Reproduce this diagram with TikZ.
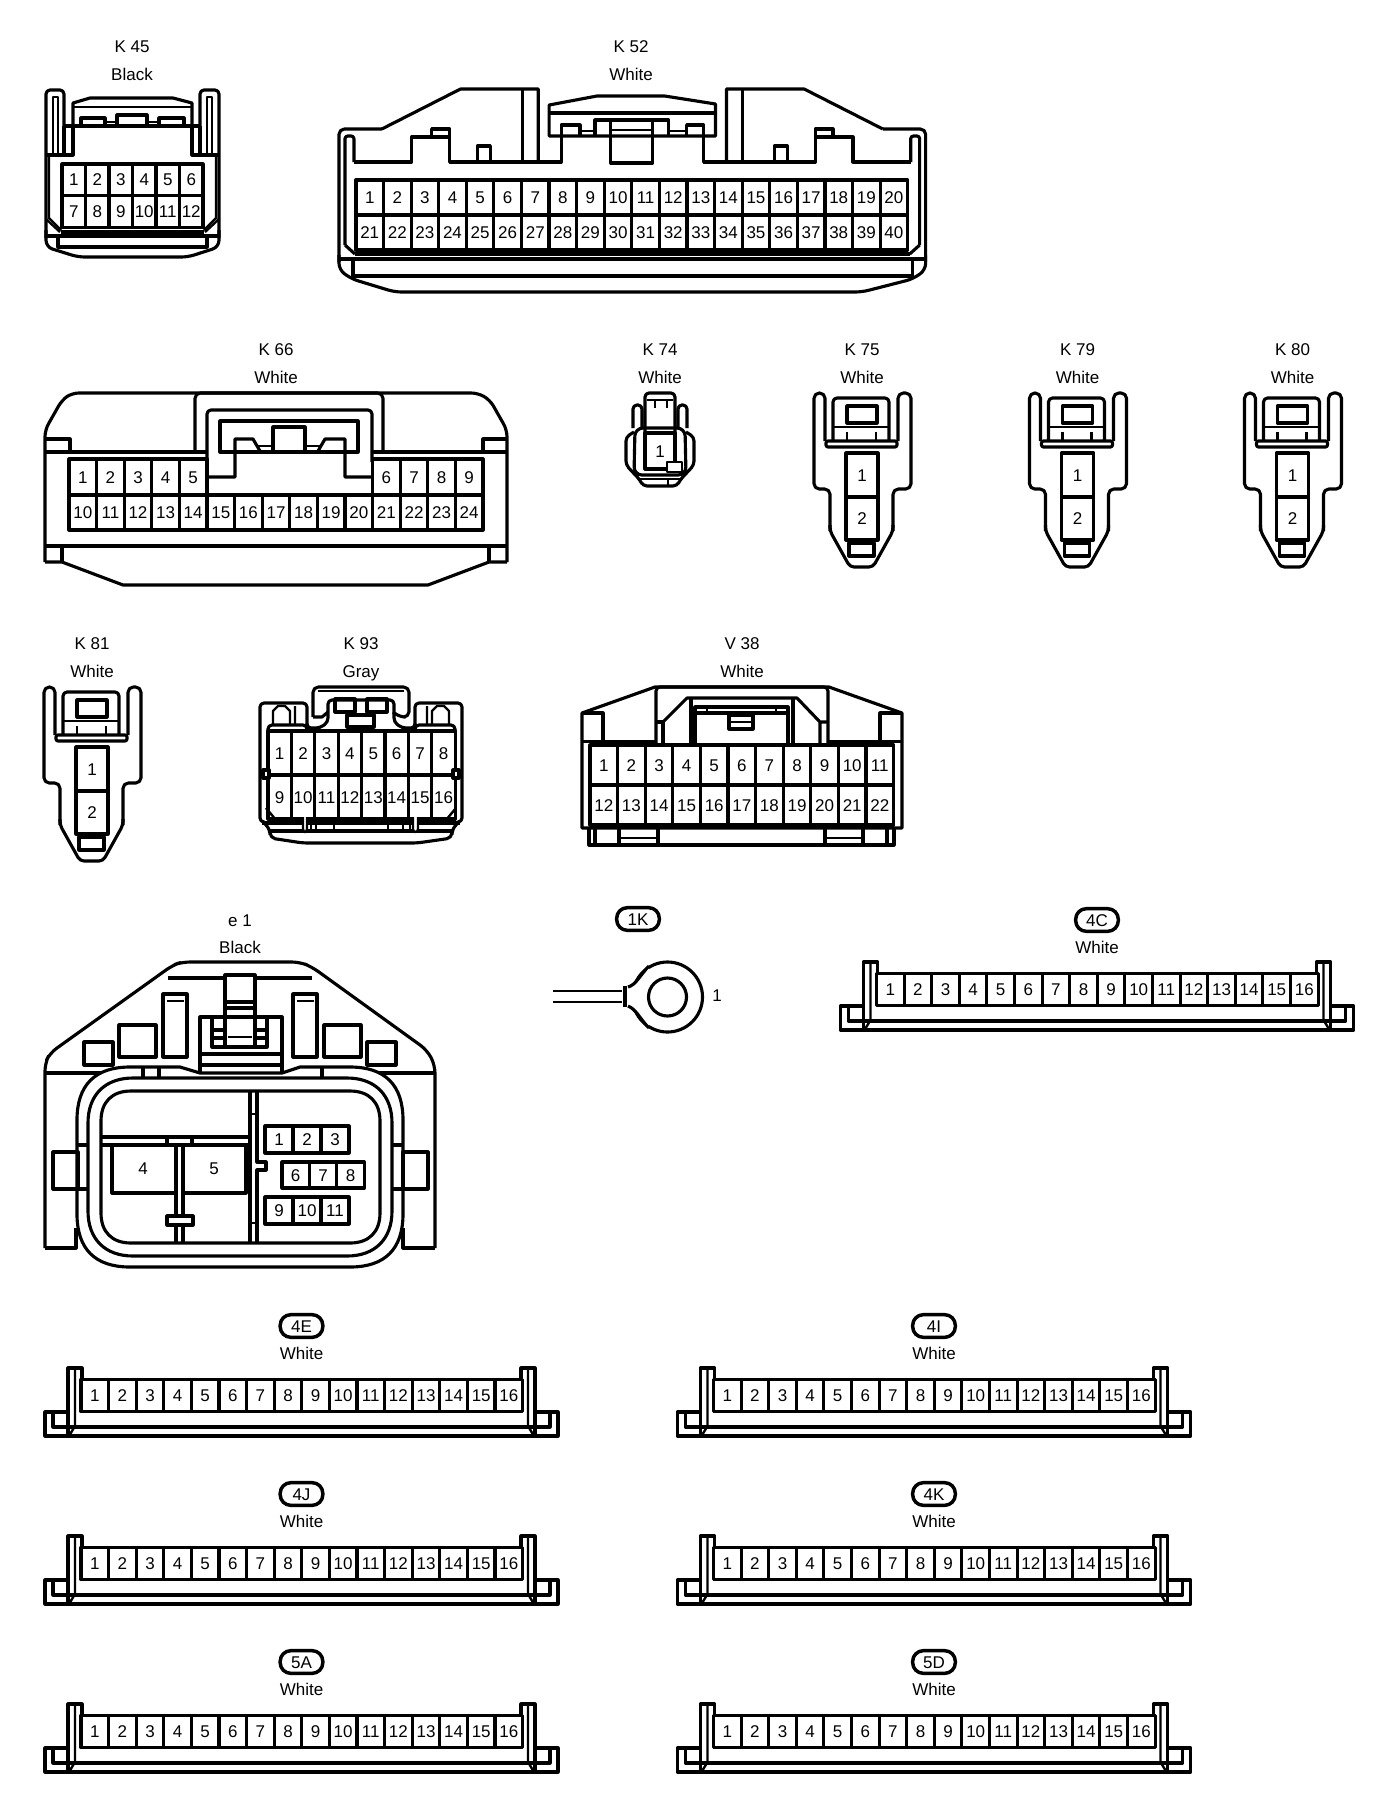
\documentclass[tikz,border=0pt]{standalone}
\usepackage{fontspec}
\setmainfont{Liberation Sans}
\tikzset{
  ln/.style={line width=2.35pt,line join=round,draw=black},
  tn/.style={line width=1.8pt,line join=round,draw=black},
  pinlabel/.style={font=\fontsize{12.75}{13}\selectfont,inner sep=0pt,text height=9.2pt,text depth=0pt},
  lab/.style={font=\fontsize{12.75}{13}\selectfont,inner sep=0pt,text height=9.2pt,text depth=0pt},
  pill/.style={draw=black,line width=2.6pt,rectangle,rounded corners=8pt,minimum width=32pt,minimum height=17pt,inner sep=0pt,font=\fontsize{12.75}{13}\selectfont,text height=9.2pt,text depth=0pt}
}
\newcommand{\pinrow}[7]{%
  \foreach \i in {1,...,#6}{%
    \pgfmathtruncatemacro{\pinno}{#7+\i-1}%
    \draw[ln] ({#2+(\i-1)*#4},#3) rectangle ++(#4,#5);
    \node[pinlabel] (#1-\pinno) at ({#2+(\i-.5)*#4},{#3+#5/2}) {\pinno};
  }}
\newcommand{\titlelabel}[5]{%
  \node[lab] (#1-name) at (#2,{#3-1}) {#4};
  \node[lab] (#1-colour) at (#2,{#3+27}) {#5};}
\newcommand{\busconn}[4]{%
  \begin{scope}[shift={(#2,#3)}]
    \node[pill] (#1-tag) at (301.5,1326) {#4};
    \node[lab] (#1-colour) at (301.5,1353) {White};
    \draw[ln] (68,1412) -- (45,1412) -- (45,1436) -- (558,1436) -- (558,1412) -- (535,1412);
    \draw[ln] (53,1412) -- (53,1427) -- (550,1427) -- (550,1412);
    \draw[ln] (68,1435) -- (68,1368) -- (82,1368) -- (82,1380);
    \draw[tn] (75,1369) -- (75,1426) -- (69,1436);
    \draw[ln] (535,1435) -- (535,1368) -- (521,1368) -- (521,1380);
    \draw[tn] (528,1369) -- (528,1426) -- (534,1436);
    \pinrow{#1}{81}{1379.5}{27.6}{32}{16}{1}
  \end{scope}}
\newcommand{\ampconn}[4]{%
  \begin{scope}[shift={(#2,#3)}]
    \titlelabel{#1}{862}{350}{#4}{White}
    \draw[ln,rounded corners=4pt] (830,531) -- (830,489) -- (814,489) -- (814,393) -- (825,393) -- (825,441);
    \draw[ln,rounded corners=4pt] (898,441) -- (898,393) -- (911,393) -- (911,489) -- (893,489) -- (893,531);
    \draw[ln,rounded corners=3pt] (830,525) -- (830,531) -- (850,567) -- (873,567) -- (893,531) -- (893,525);
    \draw[ln,rounded corners=3pt] (833,441) -- (833,398) -- (889,398) -- (889,441);
    \draw[ln,rounded corners=1.5pt] (826,441) rectangle (897,447);
    \draw[ln] (847,406) rectangle (877,423);
    \draw[tn] (833,427) -- (889,427);
    \draw[tn] (847,432) -- (847,441) (876,432) -- (876,441);
    \draw[ln] (849,543) rectangle (874,556);
    \draw[ln] (846,453) rectangle (878,497);
    \draw[ln] (846,497) rectangle (878,540);
    \node[pinlabel] (#1-1) at (862,475) {1};
    \node[pinlabel] (#1-2) at (862,518) {2};
  \end{scope}}
\begin{document}
\begin{tikzpicture}[x=0.75pt,y=-0.75pt]
\useasboundingbox (0,0) rectangle (1376,1800);
\fill[white] (0,0) rectangle (1376,1800);

%% K45
\titlelabel{k45}{132}{47}{K 45}{Black}
\draw[ln,rounded corners=3pt] (46,238) -- (46,90) -- (64,90) -- (64,126);
\draw[ln,rounded corners=3pt] (200,126) -- (200,90) -- (219,90) -- (219,238);
\draw[ln,rounded corners=5pt] (46,230) -- (46,247) -- (78,257) -- (188,257) -- (219,247) -- (219,230);
\draw[ln] (64,126) -- (200,126);
\draw[tn] (53,155) -- (53,97) -- (58,97) -- (58,155);
\draw[tn] (212,155) -- (212,97) -- (207,97) -- (207,155);
\draw[ln] (64,126) -- (64,155) (73,126) -- (73,155) -- (46,155);
\draw[ln] (200,126) -- (200,155) (192,126) -- (192,155) -- (219,155);
\draw[ln] (73,126) -- (73,103) -- (90,98) -- (173,98) -- (192,103) -- (192,126);
\draw[tn] (73,107) -- (192,107);
\draw[ln] (81,126) -- (81,118) -- (105,118) -- (105,126);
\draw[ln] (117,126) -- (117,115) -- (147,115) -- (147,126);
\draw[ln] (159,126) -- (159,118) -- (184,118) -- (184,126);
\draw[tn] (105,122) -- (117,122) (147,122) -- (159,122);
\draw[tn] (49,155) -- (49,218) -- (61,230) (216,155) -- (216,218) -- (204,230);
\pinrow{k45}{62}{164}{23.5}{31.5}{6}{1}
\pinrow{k45}{62}{195.5}{23.5}{32}{6}{7}
\draw[tn] (46,219) -- (60,232) (219,219) -- (205,232);
\draw[ln] (61,232) -- (204,232);
\draw[ln] (46,236) -- (219,236);
\draw[ln] (58,236) -- (58,247) -- (207,247) -- (207,236);

%% K52
\titlelabel{k52}{631}{47}{K 52}{White}
\begin{scope}[shift={(339,0)},xscale=0.996,shift={(-339,0)}]
\draw[ln,rounded corners=4pt] (339,262) -- (339,129) -- (382,129);
\draw[ln] (382,129) -- (461,89) -- (539,89) -- (539,162);
\draw[ln] (885,129) -- (806,89) -- (728,89) -- (728,162);
\draw[ln,rounded corners=4pt] (885,129) -- (928,129) -- (928,262);
\draw[ln] (523,89) -- (523,162) (744,89) -- (744,162);
\draw[ln,rounded corners=2pt] (345,245) -- (345,136) -- (354,136) -- (354,162);
\draw[ln,rounded corners=2pt] (922,245) -- (922,136) -- (913,136) -- (913,162);
\draw[ln] (354,162) -- (412,162) -- (412,137) -- (450,137) -- (450,162) -- (562,162) -- (562,136);
\draw[ln] (913,162) -- (855,162) -- (855,137) -- (817,137) -- (817,162) -- (705,162) -- (705,136);
\draw[ln] (432,137) -- (432,129) -- (450,129) -- (450,137);
\draw[ln] (835,137) -- (835,129) -- (817,129) -- (817,137);
\draw[ln] (478,162) -- (478,146) -- (491,146) -- (491,162);
\draw[ln] (789,162) -- (789,146) -- (776,146) -- (776,162);
\draw[ln] (550,136) -- (550,105) -- (598,96) -- (666,96) -- (717,104) -- (717,136) -- cycle;
\draw[ln] (550,113) -- (717,113);
\draw[ln] (562,136) -- (562,125) -- (581,125) -- (581,136);
\draw[ln] (688,136) -- (688,125) -- (705,125) -- (705,136);
\draw[ln] (596,136) -- (596,120) -- (670,120) -- (670,136);
\draw[ln] (612,120) -- (612,163) -- (654,163) -- (654,120);
\draw[tn] (612,130) -- (654,130) (581,131) -- (596,131) (670,131) -- (688,131);
\pinrow{k52}{356}{180}{27.7}{35}{20}{1}
\pinrow{k52}{356}{215}{27.7}{35}{20}{21}
\draw[ln] (345,245) -- (355,254) (922,245) -- (912,254);
\draw[ln] (355,254) -- (912,254);
\draw[ln] (339,259) -- (928,259);
\draw[ln] (353,259) -- (353,276) -- (915,276) -- (915,259);
\draw[ln,rounded corners=5pt] (339,255) -- (339,270) -- (352,279) -- (395,292) -- (864,292) -- (915,279) -- (928,270) -- (928,255);
\end{scope}

%% K66
\titlelabel{k66}{276}{350}{K 66}{White}
\draw[ln,rounded corners=5pt] (45,562) -- (45,430) -- (62,400) -- (72,393) -- (478,393) -- (490,400) -- (507,430) -- (507,562);
\draw[ln] (45,562) -- (62,562) -- (123,585) -- (428,585) -- (489,562) -- (507,562);
\draw[ln] (45,452) -- (207,452) (372,452) -- (507,452);
\draw[ln] (45,546) -- (507,546);
\draw[ln] (45,439) -- (70,439) -- (70,452) (507,439) -- (483,439) -- (483,452);
\draw[ln] (62,546) -- (62,562) (489,546) -- (489,562);
\draw[ln,rounded corners=4pt] (195,452) -- (195,393) -- (383,393) -- (383,452);
\draw[ln,rounded corners=3pt] (207,462) -- (207,410) -- (372,410) -- (372,462);
\draw[ln] (220,452) -- (220,421) -- (358,421) -- (358,452) -- cycle;
\draw[ln] (207,477) -- (235,477) -- (235,439) -- (253,439) -- (260,451);
\draw[ln] (372,477) -- (345,477) -- (345,439) -- (325,439) -- (318,451);
\draw[ln] (273,452) -- (273,427) -- (305,427) -- (305,452);
\draw[tn] (258,446) -- (273,446) (305,446) -- (320,446);
\pinrow{k66}{69}{459}{27.6}{36}{5}{1}
\pinrow{k66}{372.6}{459}{27.6}{36}{4}{6}
\pinrow{k66}{69}{495}{27.6}{35}{15}{10}

%% K74
\titlelabel{k74}{660}{350}{K 74}{White}
\draw[ln,rounded corners=3pt] (645,435) -- (645,393) -- (675,393) -- (675,435);
\draw[tn] (647,400) -- (673,400) (655,400) -- (655,408) (667,400) -- (667,408);
\draw[ln,rounded corners=3pt] (633,428) -- (633,405) -- (642,405) -- (642,428);
\draw[ln,rounded corners=3pt] (678,428) -- (678,405) -- (687,405) -- (687,428);
\draw[ln,rounded corners=3pt] (634,432) -- (626,437) -- (626,465) -- (640,480) -- (643,486) -- (677,486) -- (680,480) -- (694,465) -- (694,437) -- (686,432);
\draw[ln,rounded corners=6pt] (635,428) -- (634,475) -- (686,475) -- (685,428) -- cycle;
\draw[ln] (645,433) rectangle (675,469);
\draw[tn,fill=white] (667,462) rectangle (682,472);
\draw[tn] (640,479) -- (680,479) (668,479) -- (668,486);
\node[pinlabel] (k74-1) at (660,451) {1};

%% K75 K79 K80 K81
\ampconn{k75}{0}{0}{K 75}
\ampconn{k79}{215.5}{0}{K 79}
\ampconn{k80}{430.5}{0}{K 80}
\ampconn{k81}{-770}{294}{K 81}

%% K93
\titlelabel{k93}{361}{644}{K 93}{Gray}
\draw[ln,rounded corners=3pt] (263,822) -- (260,822) -- (260,703) -- (307,703) -- (307,727);
\draw[ln,rounded corners=3pt] (459,822) -- (462,822) -- (462,703) -- (415,703) -- (415,727);
\draw[ln,rounded corners=3pt] (268,731) -- (268,725) -- (307,725) -- (307,728) -- (320,728) -- (328,722) -- (328,700) -- (394,700) -- (394,722) -- (402,728) -- (415,728) -- (415,725) -- (455,725) -- (455,731);
\draw[ln,rounded corners=4pt] (313,717) -- (313,687) -- (409,687) -- (409,717) -- (400,717) -- (393,712);
\draw[ln] (313,717) -- (322,717) -- (328,712);
\draw[tn] (318,691) -- (404,691);
\draw[ln] (335,699) rectangle (355,712);
\draw[ln] (367,699) rectangle (387,712);
\draw[ln] (347,715) rectangle (374,727);
\draw[tn] (273,724) -- (273,711) -- (278,706) -- (285,706) -- (290,711) -- (290,724) (295,706) -- (295,724);
\draw[tn] (449,724) -- (449,711) -- (444,706) -- (437,706) -- (432,711) -- (432,724) (427,706) -- (427,724);
\pinrow{k93}{268}{731}{23.4}{44}{8}{1}
\pinrow{k93}{268}{775}{23.4}{44}{8}{9}
\draw[ln,fill=white] (263,770) rectangle (269,778);
\draw[ln,fill=white] (453,770) rectangle (459,778);
\draw[tn] (266,808) -- (276,820) (456,808) -- (446,820);
\draw[ln] (262,823) -- (460,823);
\draw[ln] (270,831) -- (452,831);
\draw[ln,rounded corners=4pt] (263,822) -- (270,829) -- (270,838) -- (303,843) -- (417,843) -- (452,838) -- (452,829) -- (459,822);
\draw[tn,fill=white,rounded corners=2pt] (303,817) -- (303,832) -- (307,832) -- (307,817);
\draw[tn,fill=white,rounded corners=2pt] (413,817) -- (413,832) -- (418,832) -- (418,817);
\draw[tn] (311,823) -- (311,831) (316,823) -- (316,831) (334,823) -- (334,831) (388,823) -- (388,831) (403,823) -- (403,831) (410,823) -- (410,831);

%% V38
\titlelabel{v38}{742}{644}{V 38}{White}
\draw[ln] (582,713) -- (655,687) -- (829,687) -- (902,713) -- (902,828) -- (582,828) -- cycle;
\draw[ln] (582,713) -- (603,713) -- (603,741) (902,713) -- (880,713) -- (880,741);
\draw[ln] (582,741.5) -- (657,741.5) (828,741.5) -- (902,741.5);
\draw[ln,rounded corners=3pt] (656,745) -- (656,687) -- (828,687) -- (828,745);
\draw[ln] (663,745) -- (663,722) -- (656,722);
\draw[ln] (663,722) -- (687,698) -- (797,698) -- (820,722) -- (828,722) (820,722) -- (820,745);
\draw[ln] (691,698) -- (691,745) (793,698) -- (793,745);
\draw[ln] (695,743) -- (695,707) -- (788,707) -- (788,743);
\draw[ln] (695,713) -- (788,713);
\draw[tn] (707,707) -- (707,713) (776,707) -- (776,713);
\draw[ln] (729,715) rectangle (753,729);
\draw[tn] (729,722) -- (753,722);
\pinrow{v38}{590}{745}{27.6}{40}{11}{1}
\pinrow{v38}{590}{785}{27.6}{40}{11}{12}
\draw[ln] (589,828) -- (589,845) -- (894,845) -- (894,828);
\draw[ln] (595,828) -- (595,845) (619,828) -- (619,845) (658,828) -- (658,845) (825,828) -- (825,845) (863,828) -- (863,845) (887,828) -- (887,845);
\draw[tn] (619,838) -- (658,838) (825,838) -- (863,838);

%% e1
\node[lab] (e1-name) at (240,920) {e 1};
\node[lab] (e1-colour) at (240,947) {Black};
\draw[ln,rounded corners=6pt] (45,1248) -- (45,1063) -- (50,1053) -- (173,965) -- (182,962) -- (300,962) -- (312,967) -- (427,1050) -- (435,1065) -- (435,1248);
\draw[ln] (45,1248) -- (76,1248) -- (76,1228) (435,1248) -- (403,1248) -- (403,1228);
\draw[ln] (45,1073) -- (120,1073) (360,1073) -- (435,1073);
\draw[ln] (168,978) -- (225,978) (255,978) -- (312,978);
\draw[ln] (225,1017) -- (225,975) -- (255,975) -- (255,1017);
\draw[ln] (225,1002) -- (255,1002) (225,1008) -- (255,1008);
\draw[ln] (200,1073) -- (200,1017) -- (282,1017) -- (282,1073);
\draw[ln] (212,1017) -- (212,1047) -- (267,1047) -- (267,1017);
\draw[ln] (212,1030) -- (225,1030) (255,1030) -- (267,1030) (212,1038) -- (225,1038) (255,1038) -- (267,1038);
\draw[ln] (225,1017) -- (225,1047) (255,1017) -- (255,1047);
\draw[tn] (228,1037) -- (252,1037);
\draw[ln] (200,1054) -- (282,1054) (200,1065) -- (282,1065);
\draw[ln] (163,994) rectangle (187,1057);
\draw[tn] (167,1001) -- (184,1001);
\draw[ln] (293,994) rectangle (317,1057);
\draw[tn] (297,1001) -- (314,1001);
\draw[ln] (119,1025) rectangle (156,1057);
\draw[ln] (324,1025) rectangle (361,1057);
\draw[ln] (84,1042) rectangle (113,1065);
\draw[ln] (367,1042) rectangle (396,1065);
\draw[ln,fill=white] (77,1120) .. controls (77,1085) and (95,1067) .. (130,1067) -- (180,1067) -- (200,1073) -- (282,1073) -- (300,1067) -- (350,1067) .. controls (385,1067) and (403,1085) .. (403,1120) -- (403,1214) .. controls (403,1249) and (385,1267) .. (350,1267) -- (130,1267) .. controls (95,1267) and (77,1249) .. (77,1214) -- cycle;
\draw[ln] (143,1068) -- (143,1078) (159,1068) -- (159,1078) (322,1068) -- (322,1078);
\draw[ln] (88,1123) .. controls (88,1095) and (105,1078) .. (133,1078) -- (347,1078) .. controls (375,1078) and (392,1095) .. (392,1123) -- (392,1211) .. controls (392,1239) and (375,1256) .. (347,1256) -- (133,1256) .. controls (105,1256) and (88,1239) .. (88,1211) -- cycle;
\draw[ln] (101,1121) .. controls (101,1102) and (112,1091) .. (131,1091) -- (350,1091) .. controls (369,1091) and (380,1102) .. (380,1121) -- (380,1213) .. controls (380,1232) and (369,1243) .. (350,1243) -- (131,1243) .. controls (112,1243) and (101,1232) .. (101,1213) -- cycle;
\draw[ln] (53,1152) rectangle (78,1189);
\draw[ln] (403,1152) rectangle (428,1189);
\draw[ln] (78,1145) -- (88,1145) (78,1189) -- (88,1189) (392,1145) -- (403,1145) (392,1189) -- (403,1189);
\draw[ln] (250,1091) -- (250,1243);
\draw[ln] (257,1091) -- (257,1162) -- (266,1162) -- (266,1170) -- (257,1170) -- (257,1243);
\draw[tn] (250,1114) -- (257,1114) (250,1223) -- (257,1223);
\draw[ln] (101,1137) -- (250,1137) (101,1145) -- (250,1145);
\draw[ln] (167,1137) -- (167,1145) (192,1137) -- (192,1145);
\draw[ln] (176,1145) -- (176,1193) -- (112,1193) -- (112,1146);
\draw[ln] (183,1145) -- (183,1193) -- (246,1193) -- (246,1146);
\draw[ln] (176,1193) -- (176,1216) (183,1193) -- (183,1216);
\draw[ln,fill=white] (167,1216) rectangle (193,1225);
\draw[ln] (176,1225) -- (176,1243) (183,1225) -- (183,1243);
\node[pinlabel] (e1-4) at (143,1168) {4};
\node[pinlabel] (e1-5) at (214,1168) {5};
\pinrow{e1}{265}{1126}{28}{27}{3}{1}
\pinrow{e1}{282}{1162}{27.4}{26}{3}{6}
\pinrow{e1}{265}{1197}{28}{27}{3}{9}

%% 1K
\node[pill] (c1k-tag) at (638,919) {1K};
\draw[ln] (667.5,997) circle[radius=35];
\fill[white] (628,989) .. controls (636,985) and (640,975) .. (649,966) -- (649,1028) .. controls (640,1019) and (636,1009) .. (628,1005) -- cycle;
\draw[tn] (553,991) -- (622,991) (553,1002) -- (622,1002);
\draw[ln] (628,987) .. controls (636,985) and (640,975) .. (649,966);
\draw[ln] (628,1006) .. controls (636,1009) and (640,1019) .. (649,1028);
\draw[ln,line width=3pt] (625,986) -- (625,1007);
\draw[ln] (667.5,997) circle[radius=19];
\node[pinlabel] (c1k-1) at (717,995) {1};

%% Bus connectors
\busconn{c4c}{795.5}{-406}{4C}
\busconn{c4e}{0}{0}{4E}
\busconn{c4i}{632.5}{0}{4I}
\busconn{c4j}{0}{168}{4J}
\busconn{c4k}{632.5}{168}{4K}
\busconn{c5a}{0}{336}{5A}
\busconn{c5d}{632.5}{336}{5D}
\end{tikzpicture}
\end{document}
